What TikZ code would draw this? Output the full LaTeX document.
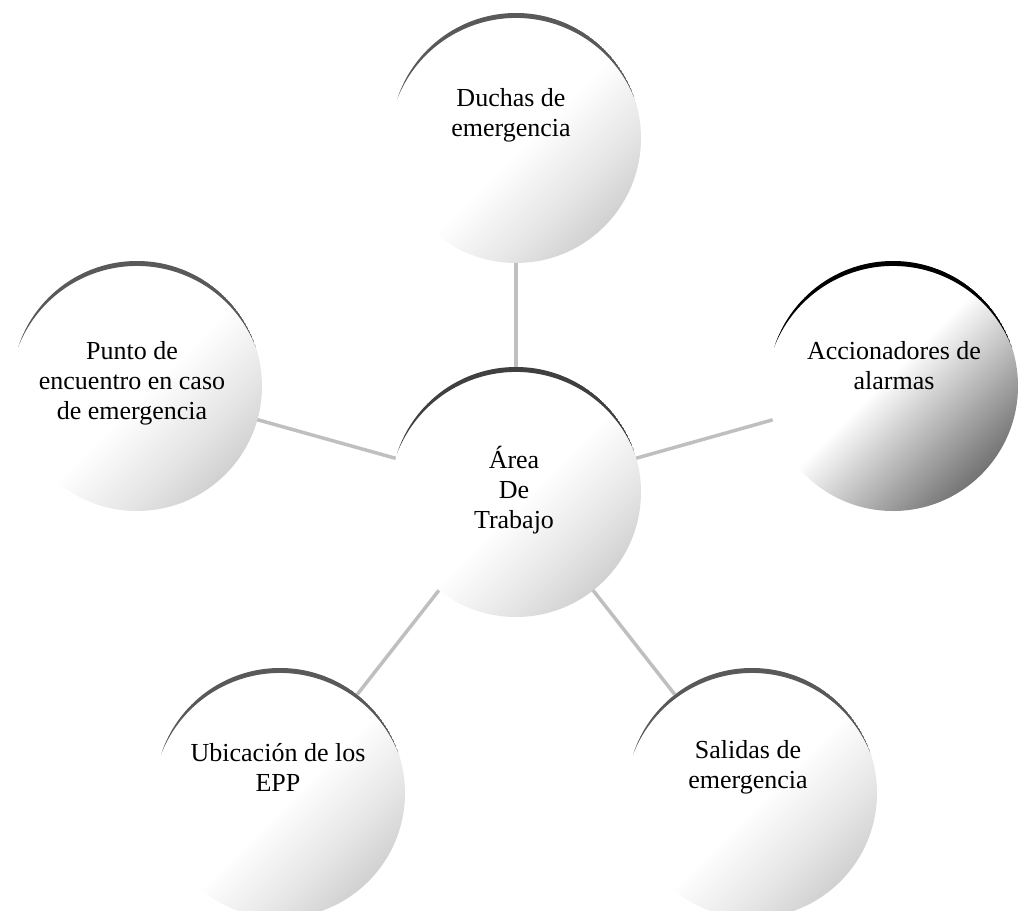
\documentclass[tikz,border=0pt]{standalone}
\usepackage{fontspec}
\setmainfont{Liberation Serif}
\pgfdeclarehorizontalshading{bubbleshade}{100bp}{color(0bp)=(white); color(52bp)=(white); color(66bp)=(black!10); color(86bp)=(black!28); color(100bp)=(black!28)}
\pgfdeclarehorizontalshading{bubbleshadedark}{100bp}{color(0bp)=(white); color(48bp)=(white); color(70bp)=(black!45); color(88bp)=(black!80); color(100bp)=(black!65)}
\tikzset{
  bubble/.style={
    circle,
    minimum size=250pt,
    inner sep=0pt,
    outer sep=0pt,
    shade,
    shading=bubbleshade,
    shading angle=-45,
    path picture={
      \fill[#1] ([shift={(162:125pt)}]path picture bounding box.center)
        arc[start angle=162, end angle=18, radius=125pt]
        arc[start angle=21.2, end angle=158.8, radius=127.54pt]
        -- cycle;
    }
  },
  bubble/.default=black!65,
  bubbletext/.style={
    align=center,
    font=\fontsize{26}{30}\selectfont
  },
  spoke/.style={draw=black!25, line width=3.5pt}
}

\begin{document}
\begin{tikzpicture}[x=1pt, y=-1pt]
  \useasboundingbox (0,0) rectangle (1019,910);

  \node[bubble=black!75] (area) at (516,492) {};
  \node[bubble] (duchas) at (516,138) {};
  \node[bubble=black, shading=bubbleshadedark] (alarmas) at (893,386) {};
  \node[bubble] (punto) at (137,386) {};
  \node[bubble] (epp) at (280,793) {};
  \node[bubble] (salidas) at (752,793) {};

  \draw[spoke] (area) -- (duchas);
  \draw[spoke] (area) -- (alarmas);
  \draw[spoke] (area) -- (punto);
  \draw[spoke] (area) -- (epp);
  \draw[spoke] (area) -- (salidas);

  \node[bubbletext] (areatxt) at (514,490) {Área\\De\\Trabajo};
  \node[bubbletext] (duchastxt) at (511,115) {Duchas de\\emergencia};
  \node[bubbletext] (alarmastxt) at (894,366) {Accionadores de\\alarmas};
  \node[bubbletext] (puntotxt) at (132,383) {Punto de\\encuentro en caso\\de emergencia};
  \node[bubbletext] (epptxt) at (278,767) {Ubicación de los\\EPP};
  \node[bubbletext] (salidastxt) at (748,767) {Salidas de\\emergencia};
\end{tikzpicture}
\end{document}
